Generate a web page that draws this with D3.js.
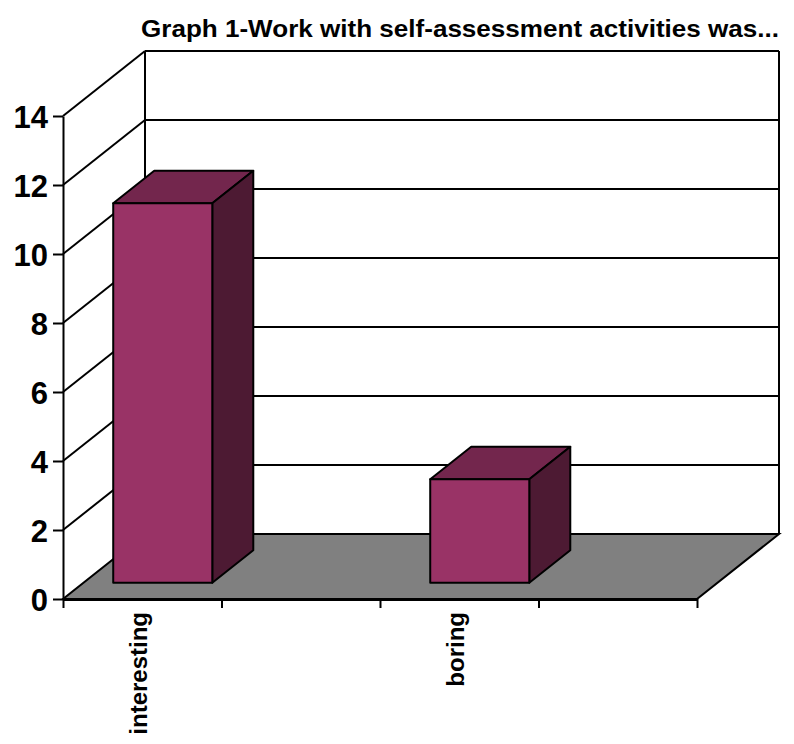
<!DOCTYPE html>
<html>
<head>
<meta charset="utf-8">
<script src="https://cdn.jsdelivr.net/npm/d3@7"></script>
<style>
  html, body { margin: 0; padding: 0; background: #ffffff; }
  svg { display: block; }
  text { font-family: Arial, "Liberation Sans", sans-serif; font-weight: bold; fill: #000; }
</style>
</head>
<body>
<svg id="chart" width="794" height="744"></svg>
<script>
// Survey answers: the category axis has four slots, only two of them labelled and filled.
const categories = ["interesting", "", "boring", ""];
const values = [11, null, 3, null];
const yTicks = [0, 2, 4, 6, 8, 10, 12, 14];
const title = "Graph 1-Work with self-assessment activities was...";

(function draw() {
  const svg = d3.select("#chart");

  // Front plane of the plot and depth offset of the 3D box
  const plotLeft = 63, plotRight = 697, plotBottom = 599, plotTop = 116;
  const DX = 82, DY = 65;
  const proj = (px, py, z) => [px + z * DX, py - z * DY];

  const x = d3.scaleBand().domain(d3.range(categories.length)).range([plotLeft, plotRight]).paddingInner(0).paddingOuter(0);
  const y = d3.scaleLinear().domain([0, 14]).range([plotBottom, plotTop]);

  const line = d3.line();
  const lineW = 2;

  // Back wall gridlines (one per tick), left wall lines and back wall side edges
  const grid = svg.append("g").attr("stroke", "#000").attr("stroke-width", lineW).attr("fill", "none");
  yTicks.forEach(t => {
    const a = proj(plotLeft, y(t), 1), b = proj(plotRight, y(t), 1);
    grid.append("path").attr("d", line([a, b]));
    if (t > 0) grid.append("path").attr("d", line([[plotLeft, y(t)], a]));
  });
  grid.append("path").attr("d", line([proj(plotLeft, y(0), 1), proj(plotLeft, y(14), 1)]));
  grid.append("path").attr("d", line([proj(plotRight, y(0), 1), proj(plotRight, y(14), 1)]));

  // Floor
  svg.append("path")
    .attr("d", line([[plotLeft, y(0)], [plotRight, y(0)], proj(plotRight, y(0), 1), proj(plotLeft, y(0), 1)]) + "Z")
    .attr("fill", "#808080").attr("stroke", "#000").attr("stroke-width", lineW);

  // Value axis
  const yAxis = svg.append("g").attr("transform", `translate(${plotLeft},0)`)
    .call(d3.axisLeft(y).tickValues(yTicks).tickSize(10).tickPadding(5).tickSizeOuter(0));
  yAxis.select(".domain").attr("stroke", "#000").attr("stroke-width", lineW);
  yAxis.selectAll(".tick line").attr("stroke", "#000").attr("stroke-width", lineW);
  yAxis.selectAll(".tick text").attr("font-size", 31).attr("font-family", null).attr("dy", "0.36em");

  // Category axis: ticks on slot boundaries
  const xb = d3.scaleLinear().domain([0, categories.length]).range([plotLeft, plotRight]);
  const xAxis = svg.append("g").attr("transform", `translate(0,${plotBottom})`)
    .call(d3.axisBottom(xb).tickValues(d3.range(categories.length + 1)).tickSize(9).tickFormat("").tickSizeOuter(0));
  xAxis.select(".domain").attr("stroke", "#000").attr("stroke-width", 3);
  xAxis.selectAll(".tick line").attr("stroke", "#000").attr("stroke-width", lineW);

  // Category labels, rotated
  svg.append("g").selectAll("text")
    .data(categories)
    .join("text")
    .attr("transform", (d, i) => `translate(${x(i) + x.bandwidth() / 2 + 5},${plotBottom + 13}) rotate(-90)`)
    .attr("text-anchor", "end")
    .attr("font-size", 24)
    .text(d => d);

  // Bars: boxes occupying the middle half of the depth
  const barW = x.bandwidth() / 1.6;
  const z0 = 0.25, z1 = 0.75;
  const bars = svg.append("g").attr("stroke", "#000").attr("stroke-width", lineW).attr("stroke-linejoin", "round");
  categories.forEach((c, i) => {
    const v = values[i];
    if (v == null) return;
    const x0 = x(i) + (x.bandwidth() - barW) / 2, x1 = x0 + barW;
    const y0 = y(0), y1 = y(v);
    const g = bars.append("g");
    g.append("path").attr("fill", "#73264d")
      .attr("d", line([proj(x0, y1, z0), proj(x1, y1, z0), proj(x1, y1, z1), proj(x0, y1, z1)]) + "Z");
    g.append("path").attr("fill", "#4d1a33")
      .attr("d", line([proj(x1, y0, z0), proj(x1, y1, z0), proj(x1, y1, z1), proj(x1, y0, z1)]) + "Z");
    g.append("path").attr("fill", "#993366")
      .attr("d", line([proj(x0, y0, z0), proj(x1, y0, z0), proj(x1, y1, z0), proj(x0, y1, z0)]) + "Z");
  });

  // Title
  svg.append("text").attr("x", 141).attr("y", 37).attr("font-size", 24.5)
    .attr("textLength", 638).attr("lengthAdjust", "spacingAndGlyphs").text(title);
})();
</script>
</body>
</html>
